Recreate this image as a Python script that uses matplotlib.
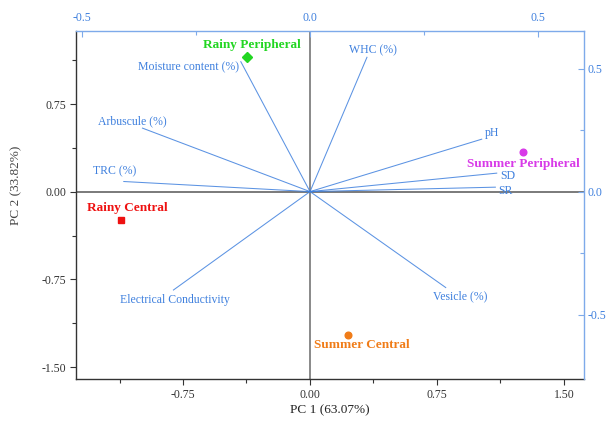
import matplotlib
matplotlib.use("Agg")
import matplotlib.pyplot as plt
from matplotlib.ticker import FixedLocator, FormatStrFormatter

plt.rcParams["font.family"] = ["Liberation Serif", "DejaVu Serif"]
plt.rcParams["axes.unicode_minus"] = True

# sample scores (PC1, PC2)
groups = ["Rainy Peripheral", "Rainy Central", "Summer Peripheral", "Summer Central"]
pc1_scores = [-0.372, -1.116, 1.260, 0.226]
pc2_scores = [1.150, -0.242, 0.342, -1.226]
group_colors = ["#22d622", "#ee1111", "#d83ae8", "#f07c18"]
group_markers = ["D", "s", "o", "o"]

# variable loadings (PC1, PC2)
variables = ["Moisture content (%)", "Arbuscule (%)", "TRC (%)", "WHC (%)", "pH",
             "SD", "SR", "Electrical Conductivity", "Vesicle (%)"]
pc1_load = [-0.152, -0.368, -0.409, 0.125, 0.377, 0.410, 0.407, -0.300, 0.298]
pc2_load = [0.528, 0.258, 0.041, 0.546, 0.213, 0.075, 0.018, -0.400, -0.390]

# label offsets in pixels (placement only)
var_offsets = [(-52, -6), (-10, 7), (-9, 10), (6, 7), (10, 6),
               (11, -3), (10, -4), (1, -10), (14, -9)]
group_offsets = [(5, 12), (6, 12), (0, -12), (14, -10)]

blue = "#3f80de"
spine_blue = "#7eaaea"
fs = 8.5

fig = plt.figure(figsize=(6.08, 4.23), dpi=100)
rect = [0.125, 0.1033, 0.835, 0.8241]
ax = fig.add_axes(rect)
ax2 = fig.add_axes(rect)
ax2.patch.set_visible(False)

# score axes (bottom / left)
ax.set_xlim(-1.382, 1.617)
ax.set_ylim(-1.605, 1.377)
ax.axhline(0, color="#707070", lw=1.3, zorder=1)
ax.axvline(0, color="#808080", lw=1.3, zorder=1)
for s in ["top", "right"]:
    ax.spines[s].set_visible(False)
for s in ["left", "bottom"]:
    ax.spines[s].set_color("#333333")
    ax.spines[s].set_linewidth(1.0)
ax.xaxis.set_major_locator(FixedLocator([-0.75, 0, 0.75, 1.5]))
ax.xaxis.set_minor_locator(FixedLocator([-1.125, -0.375, 0.375, 1.125]))
ax.yaxis.set_major_locator(FixedLocator([-1.5, -0.75, 0, 0.75]))
ax.yaxis.set_minor_locator(FixedLocator([-1.125, -0.375, 0.375, 1.125]))
ax.xaxis.set_major_formatter(FormatStrFormatter("%.2f"))
ax.yaxis.set_major_formatter(FormatStrFormatter("%.2f"))
ax.tick_params(which="both", direction="out", colors="#333333", labelsize=fs,
               width=0.8)
ax.tick_params(which="major", length=4, pad=3)
ax.tick_params(which="minor", length=3)
ax.set_xlabel("PC 1 (63.07%)", fontsize=9.5, color="#222222")
ax.set_ylabel("PC 2 (33.82%)", fontsize=9.5, color="#444444")
ax.xaxis.set_label_coords(0.5, -0.072)
ax.yaxis.set_label_coords(-0.106, 0.557)

for name, x, y, c, m, off in zip(groups, pc1_scores, pc2_scores, group_colors,
                                 group_markers, group_offsets):
    ax.plot(x, y, marker=m, color=c, ms=4.8, ls="none", zorder=4)
    ax.annotate(name, (x, y), xytext=off, textcoords="offset pixels",
                ha="center", va="center", color=c, fontsize=9.5, fontweight="bold",
                zorder=5)

# loading axes (top / right)
ax2.set_xlim(-0.514, 0.601)
ax2.set_ylim(-0.763, 0.654)
ax2.xaxis.tick_top()
ax2.yaxis.tick_right()
for s in ["left", "bottom"]:
    ax2.spines[s].set_visible(False)
for s in ["top", "right"]:
    ax2.spines[s].set_color(spine_blue)
    ax2.spines[s].set_linewidth(1.0)
ax2.xaxis.set_major_locator(FixedLocator([-0.5, 0, 0.5]))
ax2.xaxis.set_minor_locator(FixedLocator([-0.25, 0.25]))
ax2.yaxis.set_major_locator(FixedLocator([-0.5, 0, 0.5]))
ax2.yaxis.set_minor_locator(FixedLocator([-0.25, 0.25]))
ax2.xaxis.set_major_formatter(FormatStrFormatter("%.1f"))
ax2.yaxis.set_major_formatter(FormatStrFormatter("%.1f"))
ax2.tick_params(which="both", direction="in", colors=spine_blue, labelcolor=blue,
                labelsize=fs, width=0.8)
ax2.tick_params(axis="x", which="major", length=4, pad=5)
ax2.tick_params(axis="y", which="major", length=4, pad=3)
ax2.tick_params(which="minor", length=3)

for name, x, y, off in zip(variables, pc1_load, pc2_load, var_offsets):
    ax2.plot([0, x], [0, y], color=blue, lw=0.75, alpha=0.85, zorder=3)
    ax2.annotate(name, (x, y), xytext=off, textcoords="offset pixels",
                 ha="center", va="center", color=blue, fontsize=fs, zorder=5)

fig.savefig("out.png", dpi=100)
